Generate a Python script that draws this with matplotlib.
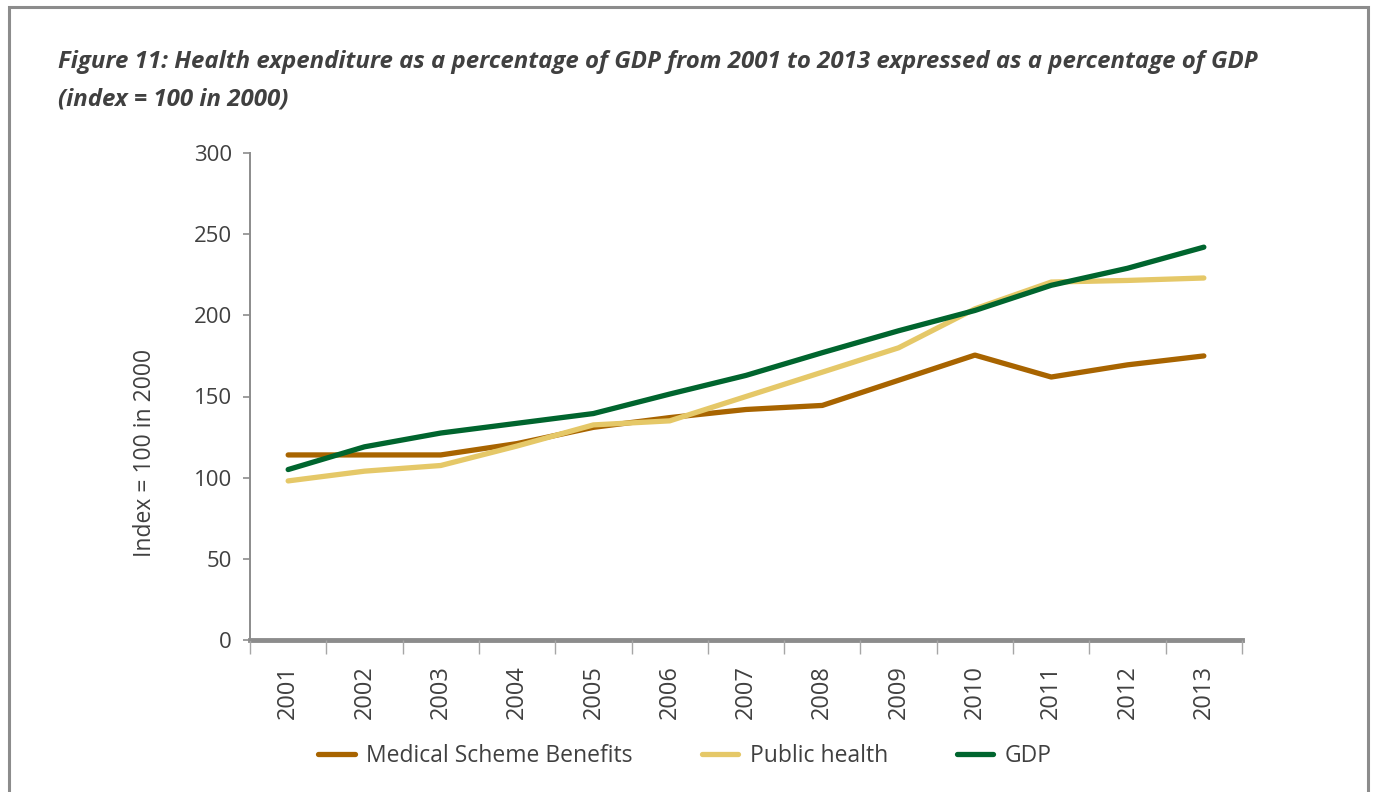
import numpy as np
import matplotlib.pyplot as plt
from matplotlib.patches import Rectangle

plt.rcParams['font.family'] = ['Open Sans', 'DejaVu Sans']

years = ['2001', '2002', '2003', '2004', '2005', '2006', '2007',
         '2008', '2009', '2010', '2011', '2012', '2013']
medical_scheme = [114, 114, 114, 121, 131, 137, 142, 144.5, 160, 175.5, 162, 169.5, 175]
public_health = [98, 104, 107.5, 119.5, 132.5, 135, 150, 165, 180, 204, 220.5, 221.5, 223]
gdp = [105, 119, 127.5, 133.5, 139.5, 151.5, 163, 177, 190.5, 203, 218.5, 229, 242]

title = ('Figure 11: Health expenditure as a percentage of GDP from 2001 to 2013 '
         'expressed as a percentage of GDP\n(index = 100 in 2000)')

brown = '#a86400'
yellow = '#e5c868'
green = '#00652e'
axis_grey = '#8c8c8c'
text_grey = '#404040'

W, H = 1375, 792
fig = plt.figure(figsize=(W / 100, H / 100), dpi=100)

# outer frame of the figure box
fig.patches.append(Rectangle((9 / W, -0.05), (1368 - 9) / W, 1.05 - 7 / H,
                             transform=fig.transFigure, fill=False,
                             edgecolor=axis_grey, linewidth=2.2))

fig.text(58 / W, 1 - 50 / H, title, fontsize=17.3, fontweight='bold', style='italic',
         color=text_grey, va='top', ha='left', linespacing=1.75)

ax = fig.add_axes([250 / W, (H - 640) / H, (1242 - 250) / W, (640 - 153) / H])

x = np.arange(len(years))
lw = 3.8
ax.plot(x, medical_scheme, color=brown, lw=lw, solid_capstyle='round',
        label='Medical Scheme Benefits')
ax.plot(x, public_health, color=yellow, lw=lw, solid_capstyle='round',
        label='Public health')
ax.plot(x, gdp, color=green, lw=lw, solid_capstyle='round', label='GDP')

ax.set_xlim(-0.5, len(years) - 0.5)
ax.set_ylim(0, 300)
ax.set_yticks(range(0, 301, 50))
ax.set_xticks(x)
ax.set_xticklabels(years, rotation=90)
ax.set_xticks(np.arange(-0.5, len(years)), minor=True)

for side in ['top', 'right']:
    ax.spines[side].set_visible(False)
ax.spines['left'].set_color(axis_grey)
ax.spines['left'].set_linewidth(1.4)
ax.spines['bottom'].set_color(axis_grey)
ax.spines['bottom'].set_linewidth(3.5)
ax.spines['bottom'].set_zorder(1)

ax.tick_params(axis='y', colors=axis_grey, length=5, width=1.2, pad=8,
               labelsize=16, labelcolor=text_grey)
ax.tick_params(axis='x', which='major', length=0, pad=18, labelsize=17,
               labelcolor=text_grey)
ax.tick_params(axis='x', which='minor', length=10, width=1.0, color='#a6a6a6')

fig.text(145 / W, 1 - 453 / H, 'Index = 100 in 2000', rotation=90, fontsize=16.5,
         color=text_grey, ha='center', va='center')

fig.legend(loc='center', bbox_to_anchor=(685 / W, 1 - 756 / H), ncol=3,
           frameon=False, fontsize=16.5, handlelength=1.6, handletextpad=0.5,
           columnspacing=3.0, labelcolor=text_grey)

fig.savefig('out.png', dpi=100)
